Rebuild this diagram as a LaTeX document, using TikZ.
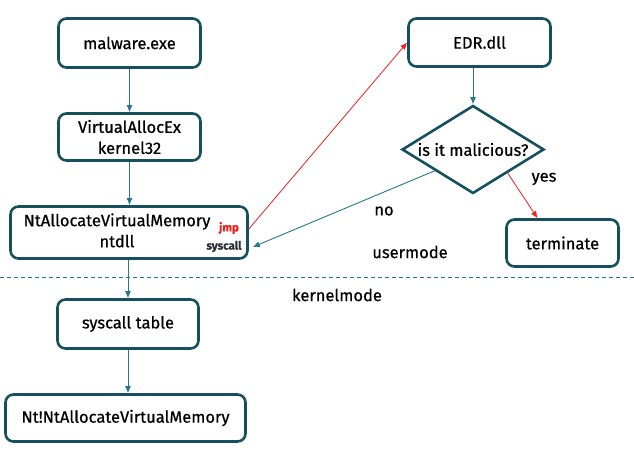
\documentclass[tikz,border=0pt]{standalone}
\usepackage{fontspec}
\setmainfont{Fira Sans}[FakeBold=0.6]
\usetikzlibrary{shapes.geometric,arrows.meta,calc}
\definecolor{boxc}{HTML}{16505F}
\definecolor{arrc}{HTML}{24788E}
\definecolor{redc}{HTML}{F01E1E}
\definecolor{darkt}{HTML}{2B2F33}
\begin{document}
\begin{tikzpicture}[x=1pt,y=-1pt,
  font=\fontsize{16.5}{21}\selectfont,
  box/.style={draw=boxc, line width=2.6pt, rounded corners=8pt, align=center, inner sep=0pt},
  arr/.style={draw=arrc, line width=0.9pt, -{Latex[length=7pt,width=6pt]}},
  rarr/.style={draw=redc, line width=0.8pt, -{Latex[length=7pt,width=6pt]}},
  lbl/.style={inner sep=0pt},
  small/.style={inner sep=0pt, font=\fontsize{11.5}{13}\selectfont\bfseries}]
\useasboundingbox (0,0) rectangle (634,452);
\fill[white] (0,0) rectangle (634,452);
% boxes
\node[box, minimum width=142, minimum height=49] (mal) at (129.5,43) {malware.exe};
\node[box, minimum width=142, minimum height=47] (va) at (129.5,137) {VirtualAllocEx\\kernel32};
\node[box, minimum width=237, minimum height=52] (nt) at (129,232.5) {\begin{tabular}{@{}c@{}}NtAllocateVirtualMemory\\ntdll\end{tabular}\hspace{24pt}};
\node[box, minimum width=141, minimum height=49] (sys) at (128,324) {syscall table};
\node[box, minimum width=240, minimum height=47] (ntk) at (125.5,418) {Nt!NtAllocateVirtualMemory};
\node[box, minimum width=142, minimum height=48] (edr) at (479.5,42.5) {EDR.dll};
\node[box, minimum width=112, minimum height=47] (term) at (562.5,243) {terminate};
\node[draw=boxc, line width=2.6pt, diamond, inner sep=0pt, minimum width=142, minimum height=88, aspect=1.6] (dia) at (473,149.5) {};
\node[lbl] (diat) at (dia.center) {is it malicious?};
% small texts
\node[small, text=redc] (jmp) at (229,228) {jmp};
\node[small, text=darkt] (sc) at (224,246.5) {syscall};
% labels
\node[lbl] (no) at (384,211) {no};
\node[lbl] (yes) at (544,179) {yes};
\node[lbl] (um) at (410,252) {usermode};
\node[lbl] (km) at (337,295) {kernelmode};
% separator
\coordinate (sl) at (0,277);
\coordinate (sr) at (634,277);
\draw[arrc, line width=0.9pt, dash pattern=on 4pt off 3pt] (sl) -- (sr);
% arrows
\draw[arr] (va.north |- mal.south) -- (va.north);
\draw[arr] (va.south) -- (va.south |- nt.north);
\draw[arr] (sys.north |- nt.south) -- (sys.north);
\draw[arr] (sys.south) -- (sys.south |- ntk.north);
\draw[arr] (edr.south -| dia.north) -- (dia.north);
\draw[rarr] ([yshift=3.5pt]nt.east) -- (edr.west);
\draw[arr] ($(dia.west)!0.47!(dia.south)$) -- ([xshift=4pt,yshift=-14.5pt]nt.east);
\draw[rarr] ($(dia.south)!0.48!(dia.east)$) -- ([xshift=-25pt]term.north);
\end{tikzpicture}
\end{document}
